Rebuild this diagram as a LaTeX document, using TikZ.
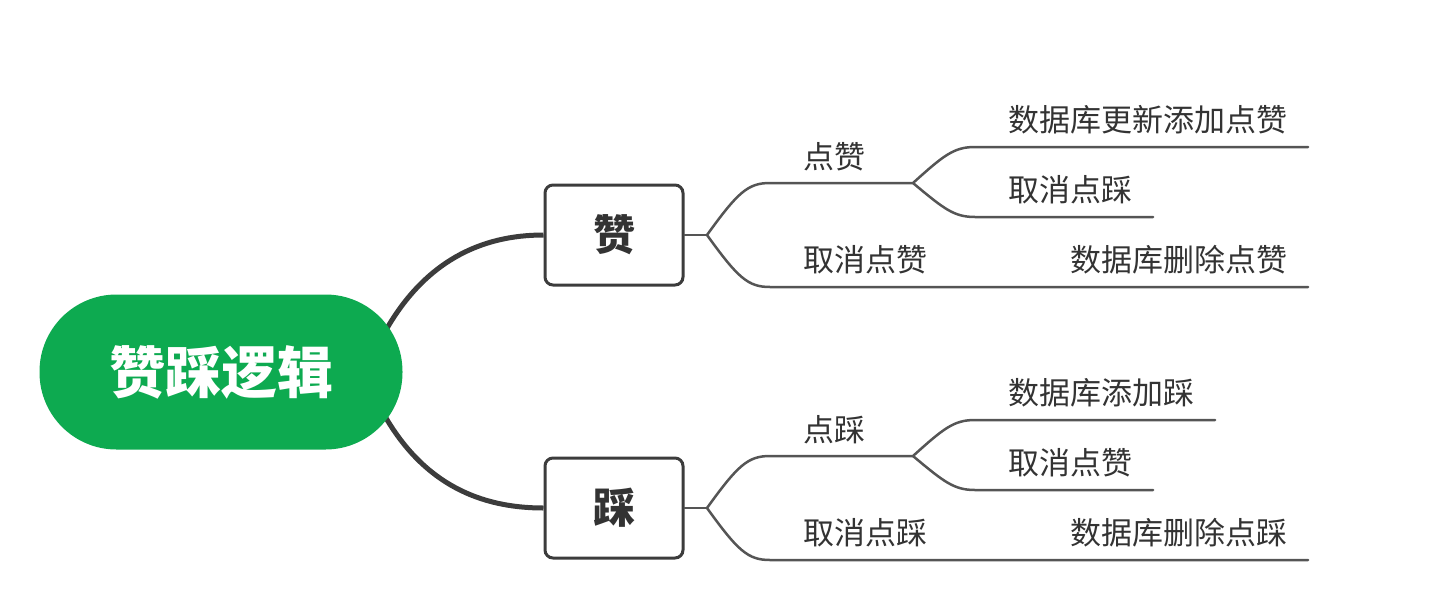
\documentclass[tikz,border=0pt]{standalone}
\usepackage{fontspec}
\newfontfamily\cjk{Noto Sans CJK SC}
\definecolor{rootgreen}{HTML}{0DAA50}
\definecolor{linegray}{HTML}{555555}
\definecolor{boxgray}{HTML}{3C3C3C}
\definecolor{txtgray}{HTML}{333333}
\begin{document}
\begin{tikzpicture}[x=1pt,y=-1pt,
  rootnode/.style={fill=rootgreen,rounded corners=77pt,minimum width=363pt,minimum height=155pt,inner sep=0pt,text=white,font=\cjk\bfseries\fontsize{56}{60}\selectfont},
  topicbox/.style={draw=boxgray,fill=white,line width=3pt,rounded corners=8pt,minimum width=138pt,minimum height=100pt,inner sep=0pt,text=txtgray,font=\cjk\bfseries\fontsize{42}{46}\selectfont},
  leaf/.style={anchor=west,inner sep=0pt,text=txtgray,font=\cjk\fontsize{31}{34}\selectfont},
  thick link/.style={draw=boxgray,line width=5pt},
  thin link/.style={draw=linegray,line width=2.5pt,line cap=round}]
\useasboundingbox (0,0) rectangle (1440,603);

% main connectors
\coordinate (r1) at (386,330);
\coordinate (r2) at (386,418);
\node[topicbox] (zan) at (614,235) {赞};
\node[topicbox] (cai) at (614,508) {踩};
\draw[thick link] (r1) .. controls (425,262) and (480,235) .. (zan.west);
\draw[thick link] (r2) .. controls (425,484) and (480,508) .. (cai.west);
\node[rootnode] (root) at (221,372) {赞踩逻辑};

% ---------- upper branch ----------
\coordinate (fz) at (707,235);
\coordinate (a1) at (770,183); \coordinate (a2) at (913,183);
\coordinate (b1) at (770,287); \coordinate (b2) at (1308,287);
\coordinate (c1) at (975,147); \coordinate (c2) at (1308,147);
\coordinate (d1) at (975,217); \coordinate (d2) at (1153,217);
\draw[thin link] (zan.east) -- (fz);
\draw[thin link] (fz) .. controls (738,192) and (748,183) .. (a1) -- (a2);
\draw[thin link] (fz) .. controls (738,278) and (748,287) .. (b1) -- (b2);
\draw[thin link] (a2) .. controls (944,155) and (954,147) .. (c1) -- (c2);
\draw[thin link] (a2) .. controls (944,209) and (954,217) .. (d1) -- (d2);
\node[leaf] (t1) at (803,157) {点赞};
\node[leaf] (t2) at (1008,120) {数据库更新添加点赞};
\node[leaf] (t3) at (1008,190) {取消点踩};
\node[leaf] (t4) at (803,260) {取消点赞};
\node[leaf] (t5) at (1070,260) {数据库删除点赞};

% ---------- lower branch ----------
\coordinate (fc) at (707,508);
\coordinate (e1) at (770,456); \coordinate (e2) at (913,456);
\coordinate (g1) at (770,560); \coordinate (g2) at (1308,560);
\coordinate (h1) at (975,420); \coordinate (h2) at (1215,420);
\coordinate (k1) at (975,490); \coordinate (k2) at (1153,490);
\draw[thin link] (cai.east) -- (fc);
\draw[thin link] (fc) .. controls (738,465) and (748,456) .. (e1) -- (e2);
\draw[thin link] (fc) .. controls (738,551) and (748,560) .. (g1) -- (g2);
\draw[thin link] (e2) .. controls (944,428) and (954,420) .. (h1) -- (h2);
\draw[thin link] (e2) .. controls (944,482) and (954,490) .. (k1) -- (k2);
\node[leaf] (u1) at (803,430) {点踩};
\node[leaf] (u2) at (1008,393) {数据库添加踩};
\node[leaf] (u3) at (1008,463) {取消点赞};
\node[leaf] (u4) at (803,533) {取消点踩};
\node[leaf] (u5) at (1070,533) {数据库删除点踩};
\end{tikzpicture}
\end{document}
